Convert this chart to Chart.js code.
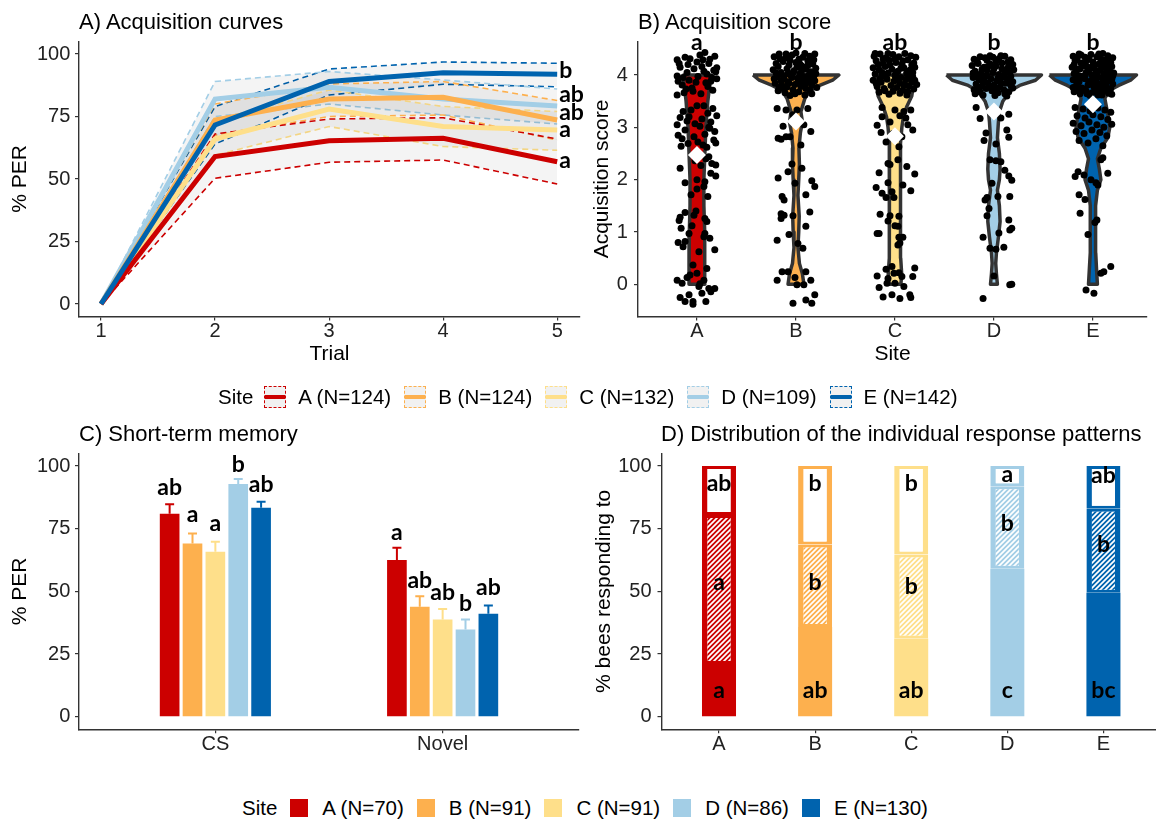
<!DOCTYPE html>
<html><head><meta charset="utf-8">
<script src="https://cdn.jsdelivr.net/npm/chart.js@4"></script>
<style>
html,body{margin:0;padding:0;background:#fff}
#wrap{position:relative;width:1156px;height:822px;overflow:hidden;background:#fff;font-family:'Liberation Sans',Arial,sans-serif}
canvas{position:absolute}
.ttl{position:absolute;font-size:22px;line-height:22px;color:#000;white-space:nowrap}
.leg{position:absolute;display:flex;align-items:center;height:30px;font-size:20.5px;color:#000;white-space:nowrap}
.leg .lt{margin-right:11px}
.leg .lab{margin-right:13px}
.ksw{display:inline-block;position:relative;width:22px;height:22px;box-sizing:border-box;border:1.5px dashed;background:#f1f1f1;margin-right:12px}
.ksw i{position:absolute;left:0;right:0;top:8px;height:4px}
.bsw{display:inline-block;width:18px;height:18px;margin-right:14px}
</style></head>
<body><div id="wrap">
<canvas id="cA" width="600" height="372" style="left:0;top:0"></canvas>
<canvas id="cB" width="576" height="372" style="left:580px;top:0"></canvas>
<canvas id="cC" width="580" height="372" style="left:0;top:400px"></canvas>
<canvas id="cD" width="576" height="372" style="left:580px;top:400px"></canvas>
<div class="ttl" style="left:79px;top:11px">A) Acquisition curves</div>
<div class="ttl" style="left:638px;top:11px">B) Acquisition score</div>
<div class="ttl" style="left:79px;top:423px">C) Short-term memory</div>
<div class="ttl" style="left:661px;top:423px">D) Distribution of the individual response patterns</div>
<div class="leg" id="legTop" style="left:218px;top:382px"></div>
<div class="leg" id="legBot" style="left:242px;top:793px"></div>
</div>
<script>
// ---------------- DATA ----------------
const sites = ['A','B','C','D','E'];
const siteColors = ['#CC0000','#FDB04E','#FEDF8A','#A3CEE6','#0063AE'];
const acqN = [124,124,132,109,142];
const memN = [70,91,91,86,130];

// Panel A: acquisition curves (% PER per trial)
const trials = [1,2,3,4,5];
const pctTicks = [0,25,50,75,100];
const acqMean = [
  [0,59.0,65.3,66.3,56.9],
  [0,73.6,82.0,82.7,73.6],
  [0,66.0,78.0,71.0,69.6],
  [0,82.0,86.7,82.0,79.2],
  [0,71.6,89.0,92.5,91.9]
];
const acqUpper = [
  [0,68.0,74.0,74.5,66.0],
  [0,80.0,88.0,89.0,81.4],
  [0,73.0,85.6,79.0,77.0],
  [0,89.0,93.0,89.6,86.0],
  [0,79.0,94.0,96.8,96.3]
];
const acqLower = [
  [0,50.3,56.7,57.6,48.0],
  [0,67.5,75.0,75.6,65.6],
  [0,59.5,71.0,63.0,61.5],
  [0,75.0,80.0,75.6,72.0],
  [0,64.0,83.6,87.9,86.9]
];
const acqLetters = ['a','ab','a','ab','b'];
const acqLetterY = [57.3,76.5,69.6,83.6,93.3];

// Panel B: acquisition score
const scoreTicks = [0,1,2,3,4];
const scoreMean = [2.47,3.11,2.83,3.30,3.44];
const scoreLetters = ['a','b','ab','b','b'];
const violinLevels = [
  [0,0.5,1,1.5,2,2.5,3,3.5,3.75,4],
  [0,0.2,0.4,0.7,1.0,1.3,1.7,2.0,2.3,2.6,2.9,3.1,3.3,3.55,3.7,3.8,3.9,4],
  [0,0.2,0.5,1,1.5,2,2.4,2.7,3,3.2,3.4,3.6,3.8,4],
  [0,0.2,0.4,0.6,0.9,1.2,1.5,1.8,2.0,2.2,2.5,2.8,3.1,3.3,3.5,3.7,3.8,3.9,4],
  [0,0.3,0.6,0.9,1.2,1.5,1.8,2.0,2.2,2.4,2.6,2.8,3.0,3.2,3.4,3.55,3.7,3.8,3.9,4]
];
const violinHalfWidth = [
  [0.08,0.08,0.077,0.07,0.07,0.08,0.09,0.11,0.125,0.145],
  [0.08,0.065,0.035,0.02,0.028,0.033,0.02,0.028,0.035,0.03,0.045,0.065,0.05,0.09,0.14,0.24,0.37,0.434],
  [0.06,0.068,0.058,0.058,0.058,0.055,0.055,0.055,0.07,0.085,0.12,0.17,0.185,0.19],
  [0.035,0.025,0.018,0.025,0.045,0.062,0.055,0.035,0.055,0.062,0.055,0.035,0.045,0.055,0.09,0.165,0.26,0.42,0.48],
  [0.045,0.036,0.028,0.025,0.028,0.027,0.045,0.08,0.065,0.045,0.08,0.15,0.17,0.155,0.135,0.12,0.16,0.26,0.38,0.44]
];
const jitterA = [
  [-0.20,4.29],[-0.12,4.34],[-0.07,4.31],[0.03,4.38],[0.08,4.43],[0.06,4.29],[0.12,4.22],[0.17,4.09],[0.19,4.06],[-0.20,3.98],
  [-0.19,3.88],[-0.20,3.62],[-0.15,3.81],[-0.08,3.90],[0.01,3.97],[0.10,4.02],[0.15,3.95],[-0.03,4.12],[0.05,4.16],[-0.10,4.05],
  [0.13,4.30],[-0.17,4.15],[0.20,3.93],[0.09,3.85],[-0.05,3.75],[0.16,3.71],[-0.13,3.66],[0.04,3.64],[-0.01,3.86],[0.11,3.78],
  [-0.18,4.22],[0.18,4.36],[-0.09,4.20],[0.00,4.25],[0.14,3.88],[-0.14,3.95],[0.07,4.07],[-0.04,3.69],[0.20,4.14],[-0.11,3.73],
  [-0.17,3.19],[-0.08,3.20],[0.00,3.41],[0.07,3.41],[0.11,3.27],[0.18,2.92],[0.17,2.76],[0.19,2.70],[-0.16,2.64],[-0.09,2.69],
  [0.08,2.87],[-0.20,3.05],[-0.12,2.95],[0.03,3.02],[0.14,3.10],[-0.03,2.82],[0.10,2.62],[-0.06,3.33],[0.16,3.36],[-0.14,3.30],
  [0.05,3.16],[-0.19,2.85],[0.01,2.72],[0.12,3.00],[-0.10,3.12],[0.20,3.22],[-0.02,3.07],[0.06,2.66],[-0.15,2.78],[0.13,2.98],
  [0.12,2.44],[0.15,2.31],[0.19,2.28],[0.19,2.07],[0.08,1.96],[0.07,1.87],[0.11,1.68],[-0.12,1.94],[0.00,2.00],[0.00,1.82],
  [-0.17,2.22],[0.04,2.27],[-0.06,1.71],[0.14,2.12],[-0.02,2.36],[0.09,2.40],
  [-0.12,1.37],[-0.01,1.40],[-0.03,1.32],[0.08,1.26],[-0.17,1.28],[-0.16,1.07],[-0.19,0.80],[-0.12,0.82],[-0.08,0.97],[0.08,0.97],
  [0.07,0.91],[0.18,0.66],[-0.14,0.72],[0.10,1.20],[-0.05,1.12],[0.13,0.88],[-0.18,1.22],[0.02,0.62],
  [-0.04,0.37],[-0.07,0.18],[-0.20,0.08],[-0.15,0.02],[0.00,0.21],[0.07,0.08],[0.12,-0.08],[0.18,-0.08],[0.14,-0.14],[0.05,-0.17],
  [0.09,-0.33],[-0.04,-0.33],[-0.12,-0.33],[-0.08,-0.20],[-0.04,-0.38],[0.02,-0.04],[-0.10,0.13],[0.10,0.30],[-0.17,-0.25],[0.03,0.01]
];
const jitterB = [
  [-0.22,4.35],[-0.17,4.40],[-0.10,4.33],[-0.04,4.38],[0.03,4.30],[0.09,4.41],[0.14,4.36],[0.19,4.40],[-0.20,4.22],[-0.13,4.26],
  [-0.07,4.19],[0.00,4.24],[0.06,4.17],[0.12,4.27],[0.17,4.21],[-0.23,4.10],[-0.15,4.05],[-0.09,4.12],[-0.02,4.08],[0.04,4.03],
  [0.10,4.11],[0.15,4.06],[0.20,4.13],[-0.19,3.96],[-0.12,3.92],[-0.05,3.99],[0.02,3.94],[0.08,3.97],[0.13,3.90],[0.18,3.98],
  [-0.21,3.84],[-0.14,3.80],[-0.08,3.87],[-0.01,3.82],[0.05,3.78],[0.11,3.85],[0.16,3.81],[0.21,3.76],[-0.18,3.70],[-0.11,3.66],
  [-0.03,3.72],[0.03,3.68],[0.09,3.62],[0.14,3.71],[-0.06,3.61],[0.00,4.42],[-0.16,4.31],[0.07,4.34],[0.18,4.29],[-0.08,4.02],
  [0.01,4.15],[-0.18,4.16],[0.13,4.00],[-0.12,3.74],[0.06,3.88],[-0.04,3.95],[0.19,3.89],[-0.22,3.93],[0.10,3.74],[-0.15,3.89],
  [0.04,4.21],[-0.01,3.64],[0.16,3.64],[-0.10,4.40],[0.12,4.18],[-0.06,4.28],[0.08,3.80],[-0.20,4.04],[0.20,4.03],[-0.13,3.99],
  [0.02,3.86],[-0.09,3.77],[0.15,4.24],[-0.03,4.05],[0.06,4.09],[-0.17,3.77],[0.11,3.93],[-0.07,3.84],
  [-0.19,3.36],[-0.10,3.33],[0.01,3.33],[0.12,3.36],[-0.18,2.79],[-0.15,2.77],[-0.10,2.82],[-0.06,2.82],[0.05,2.66],[0.00,3.14],
  [0.08,3.05],[-0.03,3.24],[0.15,2.92],[-0.13,3.02],
  [-0.18,2.03],[-0.08,2.15],[-0.01,1.93],[0.16,1.98],[0.19,1.87],[-0.14,1.68],[-0.12,1.61],[0.10,1.71],[-0.04,2.30],[0.06,2.22],
  [-0.15,1.26],[-0.12,1.32],[-0.15,1.35],[-0.03,1.31],[0.10,1.11],[0.07,0.69],[-0.07,0.95],[0.14,1.38],[-0.19,0.84],[0.02,0.78],
  [-0.19,0.08],[-0.14,0.24],[-0.08,0.24],[-0.01,0.13],[0.10,0.24],[0.15,0.08],[0.01,-0.01],[0.08,-0.01],[-0.03,-0.36],[0.10,-0.30],
  [0.19,-0.20],[0.16,-0.36]
];
const jitterC = [
  [-0.21,4.36],[-0.15,4.40],[-0.09,4.33],[-0.02,4.39],[0.04,4.35],[0.10,4.41],[0.16,4.37],[0.21,4.34],[-0.19,4.27],[-0.12,4.22],
  [-0.06,4.28],[0.01,4.24],[0.07,4.20],[0.13,4.29],[0.19,4.23],[-0.22,4.14],[-0.16,4.10],[-0.10,4.16],[-0.03,4.11],[0.03,4.07],
  [0.09,4.14],[0.15,4.09],[0.20,4.15],[-0.20,4.02],[-0.13,3.97],[-0.07,4.04],[0.00,3.99],[0.06,3.95],[0.12,4.02],[0.18,3.96],
  [-0.22,3.90],[-0.14,3.86],[-0.08,3.92],[-0.01,3.88],[0.05,3.84],[0.11,3.91],[0.17,3.87],[0.22,3.82],[-0.18,3.78],[-0.11,3.74],
  [-0.04,3.80],[0.02,3.76],[0.08,3.71],[0.14,3.79],[0.19,3.73],[-0.16,3.67],[-0.06,3.63],[0.05,3.65],[0.12,3.62],[-0.12,4.31],
  [0.00,4.30],[0.12,4.05],[-0.17,4.20],[0.17,4.19],[-0.05,4.19],[0.08,4.27],[-0.09,3.98],[0.15,3.97],[-0.19,3.84],[0.09,3.81],
  [-0.02,3.69],[-0.13,4.05],[0.03,3.91],[0.20,3.90],[-0.07,4.41],[0.18,4.05],[-0.15,3.93],[0.06,4.13],[-0.10,3.70],[0.13,3.68],
  [-0.20,4.41],[0.01,4.03],
  [-0.13,3.38],[-0.13,3.20],[0.00,3.33],[0.09,3.30],[0.16,3.33],[0.11,3.18],[-0.18,3.04],[-0.14,2.90],[0.07,2.82],[0.04,2.63],
  [-0.05,3.10],[0.18,2.95],[-0.09,2.72],[0.13,3.05],[-0.02,2.88],[0.05,3.22],
  [-0.16,2.13],[-0.07,2.31],[-0.05,2.29],[-0.07,1.94],[0.08,1.90],[0.20,2.11],[0.16,1.79],[-0.13,1.74],[-0.09,1.66],[-0.01,1.66],
  [-0.03,1.77],[0.03,2.38],[0.12,2.25],[-0.19,1.85],
  [-0.15,1.34],[-0.05,1.31],[0.00,1.12],[0.03,1.11],[-0.18,0.97],[0.04,0.90],[0.08,0.90],[0.03,0.75],[0.05,0.79],[-0.07,1.21],
  [-0.16,0.97],[0.04,1.30],
  [-0.18,0.16],[-0.09,0.29],[-0.03,0.34],[-0.07,0.11],[-0.01,0.21],[0.04,0.22],[0.07,0.15],[0.20,0.31],[0.18,0.15],[-0.16,-0.06],
  [-0.12,-0.24],[-0.03,-0.20],[0.05,-0.27],[0.15,-0.20],[0.16,-0.25],[0.00,0.02],[0.09,-0.04],[-0.08,0.02]
];
const jitterD = [
  [-0.20,4.30],[-0.14,4.35],[-0.07,4.28],[-0.01,4.34],[0.05,4.31],[0.11,4.36],[0.17,4.29],[-0.22,4.18],[-0.16,4.22],[-0.10,4.15],
  [-0.04,4.21],[0.02,4.17],[0.08,4.23],[0.14,4.14],[0.19,4.20],[-0.19,4.07],[-0.13,4.03],[-0.07,4.09],[-0.01,4.05],[0.05,4.01],
  [0.11,4.08],[0.16,4.04],[0.20,4.10],[-0.21,3.95],[-0.15,3.91],[-0.09,3.97],[-0.03,3.93],[0.03,3.89],[0.09,3.96],[0.14,3.92],
  [0.19,3.87],[-0.18,3.83],[-0.12,3.79],[-0.06,3.85],[0.00,3.81],[0.06,3.77],[0.12,3.84],[0.17,3.80],[-0.20,3.72],[-0.14,3.68],
  [-0.08,3.74],[-0.02,3.70],[0.04,3.66],[0.10,3.72],[0.15,3.68],[-0.11,3.62],[0.01,3.61],[0.13,3.60],[-0.17,4.26],[-0.04,4.37],
  [0.08,4.12],[0.02,4.26],[-0.12,4.11],[0.14,4.25],[-0.07,3.99],[0.17,3.97],[-0.18,3.99],[0.07,3.85],[-0.10,3.88],[-0.03,3.77],
  [0.11,3.64],[-0.16,3.76],[0.04,3.94],[0.19,3.75],[-0.06,4.16],[0.10,4.00],[-0.21,4.04],[0.00,4.12],[-0.13,3.96],[0.15,3.89],
  [-0.09,4.33],[0.07,4.37],[-0.19,3.64],[0.03,3.73],
  [-0.18,3.38],[-0.14,3.17],[-0.02,3.33],[0.15,3.25],[0.13,2.95],[0.15,2.81],[-0.10,2.75],[0.02,2.68],[-0.08,2.89],[0.07,3.18],
  [-0.04,2.38],[0.02,2.36],[0.07,2.34],[-0.02,1.93],[0.15,2.07],[0.18,1.99],[-0.07,1.66],[-0.09,1.61],[0.16,1.68],[0.04,1.68],
  [-0.05,1.45],[0.11,2.18],
  [-0.07,1.31],[0.15,1.23],[0.16,1.04],[0.18,1.07],[-0.11,0.90],[0.02,0.67],[0.10,0.71],[-0.04,0.69],[0.05,0.98],
  [0.00,0.16],[-0.11,-0.27],[0.16,-0.01],[0.18,0.00]
];
const jitterE = [
  [-0.20,4.36],[-0.14,4.40],[-0.08,4.34],[-0.02,4.39],[0.04,4.35],[0.10,4.41],[0.15,4.37],[0.20,4.33],[-0.18,4.27],[-0.12,4.23],
  [-0.06,4.29],[0.00,4.25],[0.06,4.21],[0.12,4.28],[0.18,4.24],[-0.21,4.15],[-0.15,4.11],[-0.09,4.17],[-0.03,4.12],[0.03,4.08],
  [0.09,4.15],[0.14,4.10],[0.19,4.16],[-0.19,4.03],[-0.13,3.98],[-0.07,4.05],[-0.01,4.00],[0.05,3.96],[0.11,4.03],[0.16,3.97],
  [0.21,4.04],[-0.20,3.91],[-0.14,3.87],[-0.08,3.93],[-0.02,3.89],[0.04,3.85],[0.10,3.92],[0.15,3.88],[0.20,3.83],[-0.17,3.79],
  [-0.11,3.75],[-0.05,3.81],[0.01,3.77],[0.07,3.72],[0.13,3.80],[0.18,3.74],[-0.19,3.68],[-0.13,3.64],[-0.07,3.70],[-0.01,3.66],
  [0.05,3.62],[0.11,3.69],[0.16,3.65],[-0.16,4.32],[-0.04,4.30],[0.08,4.30],[0.17,4.07],[-0.10,4.22],[0.02,4.19],[0.14,4.19],
  [-0.17,4.07],[-0.05,4.07],[0.07,4.09],[-0.11,3.95],[0.01,3.92],[0.13,3.94],[-0.16,3.84],[-0.04,3.86],[0.08,3.80],[0.19,3.92],
  [-0.09,3.71],[0.03,3.70],[0.15,3.72],[-0.20,3.76],[-0.03,3.61],[0.09,3.62],[0.19,3.63],[-0.12,4.38],[0.06,4.40],[0.12,4.23],
  [-0.07,4.18],[-0.19,4.20],[0.04,4.02],[-0.13,4.12],[0.17,4.30],[-0.08,3.99],[0.00,3.82],[0.11,3.86],[-0.15,3.72],[0.06,3.78],
  [-0.02,4.15],[0.20,3.98],[-0.17,3.95],[0.09,4.21],[-0.06,3.64],[0.14,4.05],
  [-0.18,3.38],[-0.10,3.35],[-0.03,3.31],[0.05,3.37],[0.12,3.33],[0.18,3.29],[-0.16,3.22],[-0.08,3.18],[0.00,3.24],[0.08,3.20],
  [0.15,3.15],[-0.20,3.08],[-0.12,3.03],[-0.04,3.10],[0.04,3.05],[0.11,3.00],[0.19,3.06],[-0.17,2.92],[-0.09,2.88],[-0.01,2.95],
  [0.07,2.90],[0.14,2.84],[-0.14,2.75],[-0.05,2.70],[0.03,2.78],[0.10,2.65],
  [-0.18,2.06],[-0.15,2.15],[-0.09,2.09],[-0.14,1.71],[-0.08,1.62],[0.03,1.94],[0.05,1.90],[0.15,2.12],[0.08,2.38],[0.10,2.42],
  [-0.02,2.00],
  [-0.13,1.36],[0.04,1.23],[-0.05,0.95],[0.02,1.18],
  [0.08,0.21],[0.11,0.24],[0.18,0.34],[-0.07,-0.11],[0.01,-0.17]
];
const jitter = [jitterA, jitterB, jitterC, jitterD, jitterE];

// Panel C: short-term memory (% PER)
const memGroups = ['CS','Novel'];
const memPER = [[81.0,62.5],[69.1,43.9],[65.8,38.8],[92.8,34.8],[83.4,41.1]];
const memErrTop = [[84.8,67.4],[73.1,48.1],[69.8,43.0],[94.8,38.8],[85.8,44.4]];
const memLetters = [['ab','a'],['a','ab'],['a','ab'],['b','b'],['ab','ab']];
const memLetterY = [[91.5,73.4],[80.5,54.5],[76.9,49.5],[100.4,45.0],[92.8,51.5]];

// Panel D: response patterns (% bees)
const patSolid = [21.0,35.8,31.2,59.0,49.5];
const patHatch = [59.5,32.9,33.5,32.9,33.5];
const patWhite = [19.5,31.3,35.3,8.1,17.0];
const patLetTop = ['ab','b','b','a','ab'];
const patLetTopY = [93,93,93,96.4,96];
const patLetMid = ['a','b','b','b','b'];
const patLetMidY = [53.5,53.5,52,77,68.5];
const patLetBot = ['a','ab','ab','c','bc'];
const patLetBotY = [10.6,10.6,10.6,10.6,10.6];

// ---------------- HELPERS ----------------
const FONT = "'Liberation Sans', Arial, sans-serif";
const LFONT = "bold 23px Lato, 'Open Sans', sans-serif";
Chart.defaults.font.family = FONT;
Chart.defaults.color = '#222';

function axisStyle() {
  return {
    offset: false,
    border: {display: true, color: '#333', width: 1.4},
    grid: {display: true, offset: false, drawOnChartArea: false, drawTicks: true, tickLength: 4, color: '#333', lineWidth: 1.2}
  };
}
function yAxis(min, max, vals, w, title, tpad, lpad) {
  return Object.assign(axisStyle(), {
    type: 'linear', min, max,
    afterBuildTicks: s => { s.ticks = vals.map(v => ({value: v})); },
    afterFit: s => { s.width = w; },
    ticks: {color: '#222', font: {size: 20, family: FONT, lineHeight: 1}, padding: lpad},
    title: {display: !!title, text: title || '', color: '#000', font: {size: 21, family: FONT, lineHeight: 1.2}, padding: {top: tpad, bottom: 0}}
  });
}
function xAxis(min, max, vals, h, labels, title, lpad, stacked) {
  return Object.assign(axisStyle(), {
    type: 'linear', min, max, stacked: !!stacked,
    afterBuildTicks: s => { s.ticks = vals.map(v => ({value: v})); },
    afterFit: s => { s.height = h; },
    ticks: {color: '#222', font: {size: 20, family: FONT, lineHeight: 1}, padding: lpad, maxRotation: 0, autoSkip: false,
            callback: (v, i) => labels ? labels[i] : String(v)},
    title: {display: !!title, text: title || '', color: '#000', font: {size: 21, family: FONT, lineHeight: 1.2}, padding: {top: 0, bottom: 4.7}}
  });
}
function letterPlugin(getItems) {
  return {id: 'letters', afterDatasetsDraw(chart) {
    const ctx = chart.ctx;
    ctx.save();
    ctx.font = LFONT;
    ctx.fillStyle = '#000';
    ctx.textBaseline = 'middle';
    for (const it of getItems(chart)) {
      ctx.textAlign = it.align || 'center';
      ctx.fillText(it.text, it.px, it.py);
    }
    ctx.restore();
  }};
}
const common = {
  responsive: false, animation: false, devicePixelRatio: 1, events: [],
  plugins: {legend: {display: false}, tooltip: {enabled: false}}
};

// ---------------- PANEL A ----------------
(function () {
  const ds = [];
  sites.forEach((s, i) => {
    ds.push({type: 'line', data: trials.map((t, k) => ({x: t, y: acqLower[i][k]})), borderColor: siteColors[i],
      borderWidth: 1.6, borderDash: [6, 4], pointRadius: 0, fill: false, order: 10});
    ds.push({type: 'line', data: trials.map((t, k) => ({x: t, y: acqUpper[i][k]})), borderColor: siteColors[i],
      borderWidth: 1.6, borderDash: [6, 4], pointRadius: 0, fill: 2 * i, backgroundColor: 'rgba(0,0,0,0.045)', order: 10});
  });
  const meanOrder = [1, 3, 2, 4, 0];
  sites.forEach((s, i) => {
    ds.push({type: 'line', data: trials.map((t, k) => ({x: t, y: acqMean[i][k]})), borderColor: siteColors[i],
      borderWidth: 5, pointRadius: 0, fill: false, order: meanOrder[i]});
  });
  new Chart(document.getElementById('cA'), {
    type: 'line',
    data: {datasets: ds},
    options: Object.assign({}, common, {
      layout: {padding: {top: 41.5, right: 20, left: 0, bottom: 0}},
      scales: {
        x: xAxis(0.807, 5.2, trials, 55.5, null, 'Trial', 1),
        y: yAxis(-5, 105, pctTicks, 79, '% PER', 8, 4.7)
      }
    }),
    plugins: [letterPlugin(ch => acqLetters.map((t, i) => ({text: t, align: 'left',
      px: ch.scales.x.getPixelForValue(trials[trials.length - 1]) + 2, py: ch.scales.y.getPixelForValue(acqLetterY[i])})))]
  });
})();

// ---------------- PANEL B ----------------
(function () {
  function violinPath(i) {
    const c = i + 1, lv = violinLevels[i], hw = violinHalfWidth[i];
    const pts = [];
    for (let k = lv.length - 1; k >= 0; k--) pts.push({x: c - hw[k], y: lv[k]});
    for (let k = 0; k < lv.length; k++) pts.push({x: c + hw[k], y: lv[k]});
    return pts;
  }
  const ds = [];
  ds.push({type: 'scatter', data: scoreMean.map((m, i) => ({x: i + 1, y: m})), pointStyle: 'rectRot', pointRadius: 9,
    backgroundColor: '#fff', borderColor: '#fff', borderWidth: 0, order: 0});
  sites.forEach((s, i) => {
    ds.push({type: 'scatter', data: jitter[i].map(p => ({x: i + 1 + p[0], y: p[1]})), pointRadius: 3.5,
      backgroundColor: '#000', borderWidth: 0, order: 1});
  });
  sites.forEach((s, i) => {
    const p = violinPath(i);
    ds.push({type: 'scatter', showLine: true, data: p.concat([p[0]]), borderColor: '#333', borderWidth: 3.5,
      borderJoinStyle: 'round', pointRadius: 0, fill: false, order: 2});
    ds.push({type: 'scatter', showLine: true, data: p, borderWidth: 0, borderColor: 'rgba(0,0,0,0)',
      backgroundColor: siteColors[i], pointRadius: 0, fill: 'shape', order: 3});
  });
  new Chart(document.getElementById('cB'), {
    type: 'scatter',
    data: {datasets: ds},
    options: Object.assign({}, common, {
      layout: {padding: {top: 41.5, right: 0, left: 0, bottom: 0}},
      scales: {
        x: xAxis(0.4045, 5.546, [1, 2, 3, 4, 5], 55.5, sites, 'Site', 1),
        y: yAxis(-0.615, 4.64, scoreTicks, 58, 'Acquisition score', 9.4, 6.2)
      }
    }),
    plugins: [letterPlugin(ch => scoreLetters.map((t, i) => ({text: t,
      px: ch.scales.x.getPixelForValue(i + 1), py: ch.scales.y.getPixelForValue(4.62)})))]
  });
})();

// ---------------- PANEL C ----------------
(function () {
  const errorBars = {id: 'errorBars', afterDatasetsDraw(chart) {
    const ctx = chart.ctx, y = chart.scales.y;
    chart.data.datasets.forEach((d, i) => {
      chart.getDatasetMeta(i).data.forEach((bar, j) => {
        const top = y.getPixelForValue(d.errTop[j]);
        ctx.save();
        ctx.strokeStyle = d.backgroundColor; ctx.lineWidth = 2;
        ctx.beginPath();
        ctx.moveTo(bar.x, bar.y); ctx.lineTo(bar.x, top);
        ctx.moveTo(bar.x - 4.5, top); ctx.lineTo(bar.x + 4.5, top);
        ctx.stroke(); ctx.restore();
      });
    });
  }};
  const ds = sites.map((s, i) => ({
    type: 'bar', data: memGroups.map((g, k) => ({x: k + 1, y: memPER[i][k]})), errTop: memErrTop[i],
    backgroundColor: siteColors[i], borderWidth: 0, categoryPercentage: 0.503, barPercentage: 0.86
  }));
  new Chart(document.getElementById('cC'), {
    type: 'bar',
    data: {datasets: ds},
    options: Object.assign({}, common, {
      layout: {padding: {top: 53.5, right: 1, left: 0, bottom: 0}},
      scales: {
        x: xAxis(0.4, 2.6, [1, 2], 42.7, memGroups, null, 1.5),
        y: yAxis(-5, 105, pctTicks, 79, '% PER', 8, 4.7)
      }
    }),
    plugins: [errorBars, letterPlugin(ch => {
      const out = [];
      sites.forEach((s, i) => memGroups.forEach((g, k) => {
        out.push({text: memLetters[i][k], px: ch.getDatasetMeta(i).data[k].x, py: ch.scales.y.getPixelForValue(memLetterY[i][k])});
      }));
      return out;
    })]
  });
})();

// ---------------- PANEL D ----------------
(function () {
  function hatch(color) {
    const c = document.createElement('canvas'); c.width = 5; c.height = 5;
    const g = c.getContext('2d');
    g.fillStyle = color; g.fillRect(0, 0, 5, 5);
    g.strokeStyle = '#fff'; g.lineWidth = 1.7;
    g.beginPath();
    g.moveTo(-1, 6); g.lineTo(6, -1);
    g.moveTo(-3.5, 3.5); g.lineTo(3.5, -3.5);
    g.moveTo(1.5, 8.5); g.lineTo(8.5, 1.5);
    g.stroke();
    return g.createPattern(c, 'repeat');
  }
  const bw = {left: 5.5, right: 5.5, top: 3, bottom: 3};
  const base = {type: 'bar', borderColor: siteColors, borderWidth: bw, borderSkipped: false,
    categoryPercentage: 1, barPercentage: 0.354, inflateAmount: 0};
  const ds = [
    Object.assign({}, base, {data: patSolid.map((v, i) => ({x: i + 1, y: v})), backgroundColor: siteColors, borderWidth: 0}),
    Object.assign({}, base, {data: patHatch.map((v, i) => ({x: i + 1, y: v})), backgroundColor: siteColors.map(hatch)}),
    Object.assign({}, base, {data: patWhite.map((v, i) => ({x: i + 1, y: v})), backgroundColor: '#ffffff'})
  ];
  new Chart(document.getElementById('cD'), {
    type: 'bar',
    data: {datasets: ds},
    options: Object.assign({}, common, {
      layout: {padding: {top: 53.5, right: 0, left: 0, bottom: 0}},
      scales: {
        x: xAxis(0.4017, 5.547, [1, 2, 3, 4, 5], 42.7, sites, null, 1.5, true),
        y: Object.assign(yAxis(-5, 105, pctTicks, 81.5, '% bees responding to', 11.4, 6), {stacked: true})
      }
    }),
    plugins: [letterPlugin(ch => {
      const out = [];
      sites.forEach((s, i) => {
        const px = ch.scales.x.getPixelForValue(i + 1), y = ch.scales.y;
        out.push({text: patLetTop[i], px, py: y.getPixelForValue(patLetTopY[i])});
        out.push({text: patLetMid[i], px, py: y.getPixelForValue(patLetMidY[i])});
        out.push({text: patLetBot[i], px, py: y.getPixelForValue(patLetBotY[i])});
      });
      return out;
    })]
  });
})();

// ---------------- LEGENDS ----------------
(function () {
  const top = document.getElementById('legTop');
  let h = '<span class="lt">Site</span>';
  sites.forEach((s, i) => {
    h += '<span class="ksw" style="border-color:' + siteColors[i] + '"><i style="background:' + siteColors[i] + '"></i></span>' +
         '<span class="lab">' + s + ' (N=' + acqN[i] + ')</span>';
  });
  top.innerHTML = h;
  const bot = document.getElementById('legBot');
  h = '<span class="lt" style="margin-right:13px">Site</span>';
  sites.forEach((s, i) => {
    h += '<span class="bsw" style="background:' + siteColors[i] + '"></span>' +
         '<span class="lab">' + s + ' (N=' + memN[i] + ')</span>';
  });
  bot.innerHTML = h;
})();
</script>
</body></html>
